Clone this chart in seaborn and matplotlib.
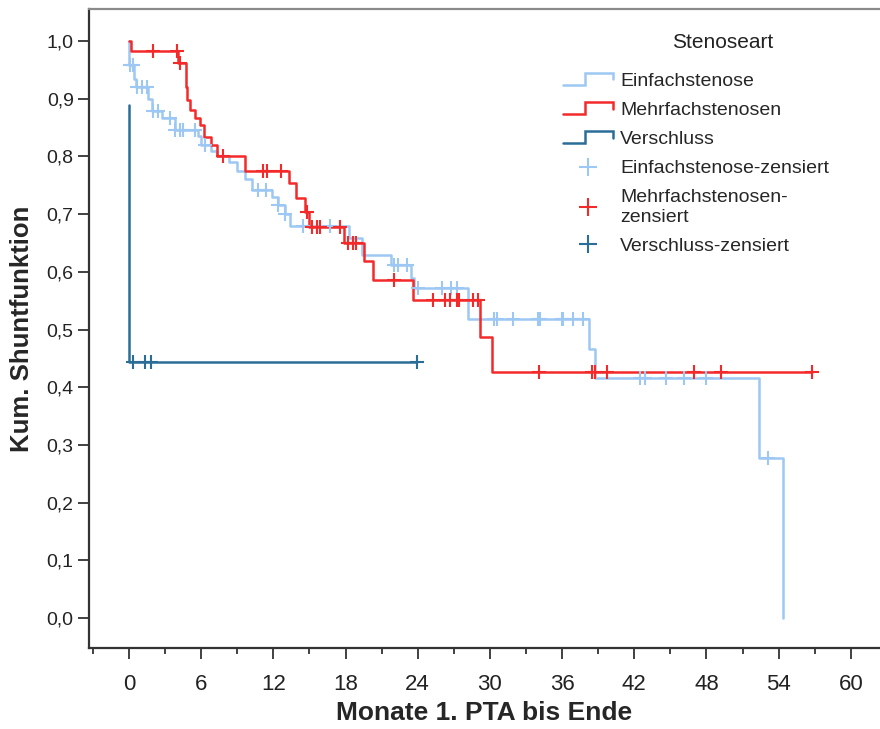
import numpy as np
import pandas as pd
import matplotlib
matplotlib.use("Agg")
import matplotlib.pyplot as plt
import seaborn as sns
from matplotlib.lines import Line2D
from matplotlib.legend_handler import HandlerBase
from matplotlib.ticker import MultipleLocator, FuncFormatter

# ---- Kaplan-Meier data per Stenoseart ----
groups = ["Einfachstenose", "Mehrfachstenosen", "Verschluss"]
colors = ["#9DC8F3", "#F42A2A", "#2A6E98"]

# event times (months) and survival right after each step
einfach_t = [0.0, 0.02, 0.4, 0.6, 1.6, 1.9, 2.7, 3.8, 5.7, 6.0, 6.8, 7.3, 8.3, 9.0,
             9.6, 10.2, 11.9, 12.4, 13.0, 13.4, 18.3, 19.4, 21.8, 23.4, 23.7,
             28.2, 38.2, 38.7, 52.4, 54.4]
einfach_s = [1.0, 0.958, 0.935, 0.92, 0.90, 0.879, 0.867, 0.846, 0.835, 0.82,
             0.81, 0.80, 0.79, 0.775, 0.76, 0.742, 0.73, 0.715, 0.70, 0.68,
             0.658, 0.629, 0.612, 0.59, 0.572, 0.518, 0.466, 0.416, 0.277, 0.0]
einfach_cens = [0.05, 0.3, 0.7, 1.1, 1.5, 2.0, 2.4, 3.4, 3.8, 4.2, 4.5, 5.5, 6.3,
                10.7, 11.4, 12.4, 13.0, 14.5, 16.7, 22.0, 22.4, 23.1, 24.0,
                26.0, 26.8, 27.3, 30.3, 30.6, 31.9, 34.0, 34.2, 36.0, 36.1,
                36.9, 37.7, 42.5, 42.9, 44.6, 46.1, 48.0, 53.1]

mehrfach_t = [0.0, 0.15, 4.07, 4.74, 4.85, 5.1, 5.5, 5.9, 6.2, 6.8, 7.3, 9.6,
              13.3, 13.9, 14.6, 15.0, 17.9, 19.5, 20.3, 23.6, 29.2, 30.2]
mehrfach_s = [1.0, 0.983, 0.962, 0.92, 0.898, 0.88, 0.867, 0.854, 0.834, 0.82,
              0.80, 0.775, 0.754, 0.728, 0.704, 0.677, 0.65, 0.619, 0.586,
              0.551, 0.487, 0.426]
mehrfach_cens = [2.0, 4.0, 4.2, 7.8, 11.1, 11.5, 12.6, 14.8, 15.2, 15.6, 15.9,
                 17.5, 18.2, 18.6, 18.9, 22.0, 25.3, 26.3, 26.7, 27.3, 27.4,
                 28.6, 29.0, 34.1, 38.5, 38.7, 39.7, 47.0, 49.2, 56.8]

verschluss_t = [0.0, 0.0, 0.0]
verschluss_s = [0.889, 0.667, 0.444]
verschluss_cens = [0.33, 1.33, 1.83, 23.9]

x_ticks = [0, 6, 12, 18, 24, 30, 36, 42, 48, 54, 60]
y_ticks = [0.0, 0.1, 0.2, 0.3, 0.4, 0.5, 0.6, 0.7, 0.8, 0.9, 1.0]

series = {
    "Einfachstenose": (einfach_t, einfach_s, einfach_cens),
    "Mehrfachstenosen": (mehrfach_t, mehrfach_s, mehrfach_cens),
    "Verschluss": (verschluss_t, verschluss_s, verschluss_cens),
}

# build step-curve and censor tables
line_rows, cens_rows = [], []
for g in groups:
    t, s, c = series[g]
    t = np.asarray(t, float)
    s = np.asarray(s, float)
    end = max(t[-1], max(c))
    for ti, si in zip(t, s):
        line_rows.append((g, ti, si))
    line_rows.append((g, end, s[-1]))
    idx = np.searchsorted(t, np.asarray(c), side="right") - 1
    for ci, k in zip(c, idx):
        cens_rows.append((g, ci, s[max(k, 0)]))

lines_df = pd.DataFrame(line_rows, columns=["Stenoseart", "Monate", "Surv"])
cens_df = pd.DataFrame(cens_rows, columns=["Stenoseart", "Monate", "Surv"])

sns.set_style("white")
plt.rcParams["font.family"] = ["Liberation Sans", "DejaVu Sans"]

fig = plt.figure(figsize=(8.8, 7.29), dpi=100)
ax = fig.add_axes([89 / 880, 81 / 729, 1 - 89 / 880, (648 - 9) / 729])

palette = dict(zip(groups, colors))
sns.lineplot(data=lines_df, x="Monate", y="Surv", hue="Stenoseart",
             palette=palette, estimator=None, sort=False, units="Stenoseart",
             drawstyle="steps-post", linewidth=1.8, legend=False, ax=ax)
for g in groups:
    sub = cens_df[cens_df["Stenoseart"] == g]
    sns.scatterplot(data=sub, x="Monate", y="Surv", color=palette[g],
                    marker="+", s=95, linewidth=1.5, legend=False, ax=ax,
                    zorder=3)

ax.set_xlim(-3.33, 62.43)
ax.set_ylim(-0.052, 1.0555)
ax.set_xticks(x_ticks)
ax.xaxis.set_minor_locator(MultipleLocator(3))
ax.set_yticks(y_ticks)
ax.yaxis.set_major_formatter(FuncFormatter(lambda v, p: f"{v:.1f}".replace(".", ",")))

ax.tick_params(axis="both", which="major", direction="out", length=8,
               width=1.3, color="#333333", labelcolor="#222222",
               bottom=True, left=True)
ax.tick_params(axis="x", which="minor", direction="out", length=4.5,
               width=1.3, color="#333333", bottom=True)
ax.tick_params(axis="y", labelsize=14, pad=3)
ax.tick_params(axis="x", labelsize=16, pad=11)

for side in ["left", "bottom"]:
    ax.spines[side].set_color("#333333")
    ax.spines[side].set_linewidth(1.6)
ax.spines["top"].set_color("#8a8a8a")
ax.spines["top"].set_linewidth(1.6)
ax.spines["right"].set_visible(False)

ax.set_xlabel("Monate 1. PTA bis Ende", fontsize=19, fontweight="bold",
              labelpad=4)
ax.set_ylabel("Kum. Shuntfunktion", fontsize=18.5, fontweight="bold",
              labelpad=9)


class StepHandler(HandlerBase):
    def create_artists(self, legend, orig_handle, xdescent, ydescent,
                       width, height, fontsize, trans):
        xs = np.array([0.0, 0.44, 0.44, 0.98, 0.98]) * width - xdescent
        ys = np.array([0.05, 0.05, 0.95, 0.95, 0.45]) * height - ydescent
        ln = Line2D(xs, ys, color=orig_handle.get_color(), linewidth=1.8,
                    solid_joinstyle="miter")
        ln.set_transform(trans)
        return [ln]


step_handles = [Line2D([], [], color=c) for c in colors]
cens_handles = [Line2D([], [], color=c, marker="+", linestyle="none",
                       markersize=13, markeredgewidth=1.5) for c in colors]
labels = ["Einfachstenose", "Mehrfachstenosen", "Verschluss",
          "Einfachstenose-zensiert", "Mehrfachstenosen-\nzensiert",
          "Verschluss-zensiert"]
handler_map = {h: StepHandler() for h in step_handles}
fig.text(723 / 880, 1 - 43 / 729, "Stenoseart", fontsize=15, color="#222222",
         ha="center", va="center")
leg = fig.legend(step_handles + cens_handles, labels, handler_map=handler_map,
                 loc="upper left", bbox_to_anchor=(563 / 880, 1 - 72 / 729),
                 frameon=False, fontsize=14, handlelength=2.6,
                 handletextpad=0.35, labelspacing=0.6, borderpad=0,
                 borderaxespad=0)

fig.savefig("out.png", dpi=100)
